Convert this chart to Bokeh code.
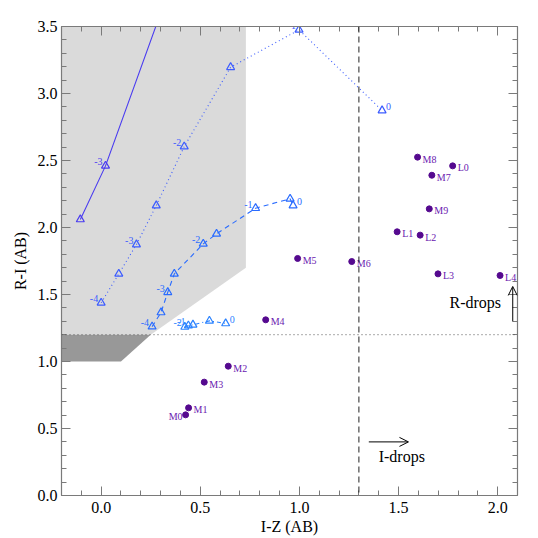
from bokeh.plotting import figure
from bokeh.models import (ColumnDataSource, LinearAxis, FixedTicker, Span, Arrow, OpenHead,
                          Range1d, CustomLabelingPolicy)
from bokeh.core.properties import value
from bokeh.embed import file_html
from bokeh.resources import INLINE
import numpy as np

# ---- data ----
x_ticks = [0.0, 0.5, 1.0, 1.5, 2.0]
x_tick_labels = ["0.0", "0.5", "1.0", "1.5", "2.0"]
y_ticks = [0.0, 0.5, 1.0, 1.5, 2.0, 2.5, 3.0, 3.5]
y_tick_labels = ["0.0", "0.5", "1.0", "1.5", "2.0", "2.5", "3.0", "3.5"]

light_x = [-0.2, 0.73, 0.73, 0.25, -0.2]
light_y = [3.5, 3.5, 1.7, 1.2, 1.2]
dark_x = [-0.2, 0.25, 0.10, -0.2]
dark_y = [1.2, 1.2, 1.0, 1.0]

solid_x = [-0.105, 0.022, 0.30]
solid_y = [2.06, 2.46, 3.60]
solid_lab = ["", "-3", ""]

dotted_x = [0.0, 0.089, 0.178, 0.278, 0.419, 0.653, 0.998, 1.417]
dotted_y = [1.438, 1.654, 1.873, 2.164, 2.604, 3.196, 3.475, 2.873]
dotted_lab = ["-4", "", "-3", "", "-2", "", "-1", "0"]

dashed_x = [0.257, 0.302, 0.336, 0.369, 0.515, 0.582, 0.779, 0.953, 0.968]
dashed_y = [1.26, 1.366, 1.517, 1.654, 1.878, 1.953, 2.144, 2.214, 2.164]
dashed_lab = ["-4", "", "-3", "", "-2", "", "-1", "", "0"]

dashdot_x = [0.422, 0.440, 0.463, 0.546, 0.628]
dashdot_y = [1.258, 1.268, 1.274, 1.303, 1.284]
dashdot_lab = ["-2", "-1", "", "", "0"]

dwarf_names = ["M0", "M1", "M2", "M3", "M4", "M5", "M6", "M7", "M8", "M9",
               "L0", "L1", "L2", "L3", "L4"]
dwarf_iz = [0.426, 0.441, 0.641, 0.520, 0.830, 0.991, 1.264, 1.668, 1.596, 1.655,
            1.773, 1.493, 1.609, 1.699, 2.012]
dwarf_ri = [0.602, 0.654, 0.965, 0.846, 1.311, 1.769, 1.746, 2.390, 2.525, 2.139,
            2.460, 1.968, 1.943, 1.654, 1.642]

iz_cut = 1.3
ri_cut = 1.2
idrop_arrow_x = [1.35, 1.55]
idrop_arrow_y = 0.40
idrop_text = "I-drops"
idrop_text_pos = (1.40, 0.29)
rdrop_arrow_x = 2.076
rdrop_arrow_y = [1.30, 1.56]
rdrop_text = "R-drops"
rdrop_text_pos = (2.017, 1.44)

SERIF = "Liberation Serif"

p = figure(width=538, height=538, x_range=Range1d(-0.2, 2.1), y_range=Range1d(0, 3.5),
           output_backend="svg", toolbar_location=None,
           min_border_left=61, min_border_right=21, min_border_top=26, min_border_bottom=43)
p.outline_line_color = None
p.xgrid.visible = False
p.ygrid.visible = False
p.background_fill_color = "white"
p.border_fill_color = "white"

# shaded regions
p.patch(light_x, light_y, fill_color="#dadada", line_color=None)
p.patch(dark_x, dark_y, fill_color="#989898", line_color=None)

# cut lines
p.add_layout(Span(location=iz_cut, dimension="height", line_color="#222222",
                  line_dash="6 4", line_width=1))
p.add_layout(Span(location=ri_cut, dimension="width", line_color="#555555",
                  line_dash="1 3", line_width=1))

def track(xs, ys, labs, color, dash):
    p.line(xs, ys, line_color=color, line_width=1.1, line_dash=dash)
    p.scatter(xs, ys, marker="triangle", size=8, fill_color=None, line_color=color,
              line_width=1.2)
    left = [i for i, l in enumerate(labs) if l and l != "0"]
    right = [i for i, l in enumerate(labs) if l == "0"]
    if left:
        src = ColumnDataSource(dict(x=[xs[i] for i in left], y=[ys[i] for i in left],
                                    t=[labs[i] for i in left]))
        p.text("x", "y", text="t", source=src, text_align="right", text_baseline="middle",
               x_offset=-3, y_offset=-4, text_font=value(SERIF),
               text_font_size="10px", text_color=color)
    if right:
        src = ColumnDataSource(dict(x=[xs[i] for i in right], y=[ys[i] for i in right],
                                    t=[labs[i] for i in right]))
        p.text("x", "y", text="t", source=src, text_align="left", text_baseline="middle",
               x_offset=4, y_offset=-4, text_font=value(SERIF),
               text_font_size="10px", text_color=color)

track(solid_x, solid_y, solid_lab, "#4a3cf0", "solid")
track(dotted_x, dotted_y, dotted_lab, "#3c5cff", "1 3")
track(dashed_x, dashed_y, dashed_lab, "#2a6cff", "5 4")
track(dashdot_x, dashdot_y, dashdot_lab, "#2a82ff", "4 3 1 3")

# dwarfs
p.scatter(dwarf_iz, dwarf_ri, marker="circle", size=6, fill_color="#55098f",
          line_color="#55098f")
src_r = ColumnDataSource(dict(x=dwarf_iz[1:], y=dwarf_ri[1:], t=dwarf_names[1:]))
p.text("x", "y", text="t", source=src_r, text_align="left", text_baseline="middle",
       x_offset=5, y_offset=2, text_font=value(SERIF), text_font_size="10px",
       text_color="#6a20b0")
src_l = ColumnDataSource(dict(x=dwarf_iz[:1], y=dwarf_ri[:1], t=dwarf_names[:1]))
p.text("x", "y", text="t", source=src_l, text_align="right", text_baseline="middle",
       x_offset=-3, y_offset=2, text_font=value(SERIF), text_font_size="10px",
       text_color="#6a20b0")

# arrows and annotations
p.add_layout(Arrow(end=OpenHead(size=9, line_width=1, line_color="black"),
                   x_start=idrop_arrow_x[0], y_start=idrop_arrow_y,
                   x_end=idrop_arrow_x[1], y_end=idrop_arrow_y,
                   line_color="black", line_width=1))
p.add_layout(Arrow(end=OpenHead(size=9, line_width=1, line_color="black"),
                   x_start=rdrop_arrow_x, y_start=rdrop_arrow_y[0],
                   x_end=rdrop_arrow_x, y_end=rdrop_arrow_y[1],
                   line_color="black", line_width=1))
p.text([idrop_text_pos[0]], [idrop_text_pos[1]], text=[idrop_text], text_align="left",
       text_baseline="middle", text_font=value(SERIF), text_font_size="16px",
       text_color="black")
p.text([rdrop_text_pos[0]], [rdrop_text_pos[1]], text=[rdrop_text], text_align="right",
       text_baseline="middle", text_font=value(SERIF), text_font_size="16px",
       text_color="black")

# axes
x_minor = [round(v, 2) for v in np.arange(-0.2, 2.101, 0.1)]
y_minor = [round(v, 2) for v in np.arange(0.0, 3.501, 0.1)]
xt = FixedTicker(ticks=x_ticks, minor_ticks=x_minor)
yt = FixedTicker(ticks=y_ticks, minor_ticks=y_minor)

def style(ax, labels, ticks=None):
    ax.axis_line_color = "#7a7a7a"
    ax.axis_line_width = 1.2
    ax.major_tick_line_color = "#7a7a7a"
    ax.minor_tick_line_color = "#7a7a7a"
    ax.major_tick_in = 9
    ax.major_tick_out = 0
    ax.minor_tick_in = 5
    ax.minor_tick_out = 0
    ax.major_label_text_font = SERIF
    ax.major_label_text_font_size = "16px"
    ax.major_label_text_color = "black"
    ax.axis_label_text_font = SERIF
    ax.axis_label_text_font_size = "16px"
    ax.axis_label_text_font_style = "normal"
    ax.axis_label_text_color = "black"
    if not labels:
        ax.major_label_overrides = {t: "" for t in ticks}
        ax.major_label_standoff = 0
        ax.major_label_policy = CustomLabelingPolicy(
            code="for (const i of indices) { indices.unset(i) }\nreturn indices")

p.xaxis.ticker = xt
p.yaxis.ticker = yt
p.xaxis.major_label_overrides = dict(zip(x_ticks, x_tick_labels))
p.yaxis.major_label_overrides = dict(zip(y_ticks, y_tick_labels))
p.xaxis.axis_label = "I-Z (AB)"
p.yaxis.axis_label = "R-I (AB)"
style(p.xaxis[0], True)
style(p.yaxis[0], True)
p.xaxis.major_label_standoff = 6
p.yaxis.major_label_standoff = 4
p.xaxis.axis_label_standoff = 2
p.yaxis.axis_label_standoff = 6

ax_top = LinearAxis(ticker=xt)
ax_right = LinearAxis(ticker=yt)
style(ax_top, False, x_ticks)
style(ax_right, False, y_ticks)
p.add_layout(ax_top, "above")
p.add_layout(ax_right, "right")

open("out.html", "w").write(file_html(p, INLINE))
